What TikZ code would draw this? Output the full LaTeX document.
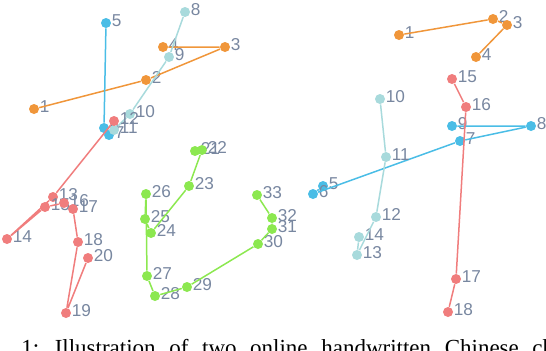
\documentclass[tikz,border=0pt]{standalone}
\usepackage{fontspec}
\setmainfont{Liberation Serif}
\newfontfamily\numfont{Liberation Sans}
\usepackage{xcolor}
\usepackage{tikz}
\definecolor{myorange}{RGB}{240,150,58}
\definecolor{myblue}{RGB}{74,189,230}
\definecolor{myteal}{RGB}{168,218,220}
\definecolor{myred}{RGB}{240,125,125}
\definecolor{mygreen}{RGB}{140,232,80}
\definecolor{mylabel}{RGB}{120,135,160}
\tikzset{
  dot/.style={circle, fill=#1, draw=none, inner sep=0pt, minimum size=5pt},
  num/.style={font=\numfont\fontsize{8.6}{9}\selectfont, text=mylabel,
    inner sep=0pt, yshift=1.2pt},
  stroke/.style={line width=0.75pt, color=#1},
  caption/.style={font=\fontsize{11.5}{13}\selectfont, inner sep=0pt}
}

\begin{document}
\begin{tikzpicture}[x=0.5pt, y=-0.5pt]
\useasboundingbox (0,0) rectangle (546,350);

% Left character: orange stroke
\node[dot=myorange, label={[num]right:1}] (L1) at (34,109) {};
\node[dot=myorange, label={[num]right:2}] (L2) at (146,80) {};
\node[dot=myorange, label={[num]right:3}] (L3) at (225,47) {};
\node[dot=myorange, label={[num]right:4}] (L4) at (163,47) {};
\draw[stroke=myorange] (L1) -- (L2) -- (L3) -- (L4);

% Left character: blue stroke
\node[dot=myblue, label={[num]right:5}] (L5) at (106,23) {};
\node[dot=myblue, label={[num]right:6}] (L6) at (104,128) {};
\node[dot=myblue, label={[num]right:7}] (L7) at (109,135) {};
\draw[stroke=myblue] (L5) -- (L6) -- (L7);

% Left character: teal stroke
\node[dot=myteal, label={[num]right:8}] (L8) at (185,12) {};
\node[dot=myteal, label={[num]right:9}] (L9) at (169,57) {};
\node[dot=myteal, label={[num]right:10}] (L10) at (130,114) {};
\node[dot=myteal, label={[num]right:11}] (L11) at (114,130) {};
\draw[stroke=myteal] (L8) -- (L9) -- (L10) -- (L11);

% Left character: red stroke
\node[dot=myred, label={[num]right:12}] (L12) at (114,121) {};
\node[dot=myred, label={[num]right:13}] (L13) at (53,197) {};
\node[dot=myred, label={[num]right:14}] (L14) at (7,239) {};
\node[dot=myred, label={[num]right:15}] (L15) at (45,207) {};
\node[dot=myred, label={[num]right:16}] (L16) at (64,203) {};
\node[dot=myred, label={[num]right:17}] (L17) at (73,209) {};
\node[dot=myred, label={[num]right:18}] (L18) at (78,242) {};
\node[dot=myred, label={[num]right:19}] (L19) at (66,313) {};
\node[dot=myred, label={[num]right:20}] (L20) at (88,258) {};
\draw[stroke=myred] (L12) -- (L13) -- (L14) -- (L15) -- (L16) -- (L17)
  -- (L18) -- (L19) -- (L20);

% Left character: green stroke
\node[dot=mygreen, label={[num]right:21}] (L21) at (195,151) {};
\node[dot=mygreen, label={[num]right:22}] (L22) at (202,150) {};
\node[dot=mygreen, label={[num]right:23}] (L23) at (189,186) {};
\node[dot=mygreen, label={[num]right:24}] (L24) at (151,233) {};
\node[dot=mygreen, label={[num]right:25}] (L25) at (145,219) {};
\node[dot=mygreen, label={[num]right:26}] (L26) at (146,194) {};
\node[dot=mygreen, label={[num]right:27}] (L27) at (147,276) {};
\node[dot=mygreen, label={[num]right:28}] (L28) at (155,296) {};
\node[dot=mygreen, label={[num]right:29}] (L29) at (187,287) {};
\node[dot=mygreen, label={[num]right:30}] (L30) at (258,244) {};
\node[dot=mygreen, label={[num]right:31}] (L31) at (272,229) {};
\node[dot=mygreen, label={[num]right:32}] (L32) at (272,218) {};
\node[dot=mygreen, label={[num]right:33}] (L33) at (257,195) {};
\draw[stroke=mygreen] (L21) -- (L22) -- (L23) -- (L24) -- (L25) -- (L26)
  -- (L27) -- (L28) -- (L29) -- (L30) -- (L31) -- (L32) -- (L33);

% Right character: orange stroke
\node[dot=myorange, label={[num]right:1}] (R1) at (399,35) {};
\node[dot=myorange, label={[num]right:2}] (R2) at (493,19) {};
\node[dot=myorange, label={[num]right:3}] (R3) at (507,25) {};
\node[dot=myorange, label={[num]right:4}] (R4) at (476,57) {};
\draw[stroke=myorange] (R1) -- (R2) -- (R3) -- (R4);

% Right character: blue stroke
\node[dot=myblue, label={[num]right:5}] (R5) at (323,186) {};
\node[dot=myblue, label={[num]right:6}] (R6) at (313,194) {};
\node[dot=myblue, label={[num]right:7}] (R7) at (460,141) {};
\node[dot=myblue, label={[num]right:8}] (R8) at (531,126) {};
\node[dot=myblue, label={[num]right:9}] (R9) at (452,126) {};
\draw[stroke=myblue] (R5) -- (R6) -- (R7) -- (R8) -- (R9);

% Right character: teal stroke
\node[dot=myteal, label={[num]right:10}] (R10) at (380,99) {};
\node[dot=myteal, label={[num]right:11}] (R11) at (386,157) {};
\node[dot=myteal, label={[num]right:12}] (R12) at (376,217) {};
\node[dot=myteal, label={[num]right:13}] (R13) at (357,255) {};
\node[dot=myteal, label={[num]right:14}] (R14) at (359,237) {};
\draw[stroke=myteal] (R10) -- (R11) -- (R12) -- (R13) -- (R14);

% Right character: red stroke
\node[dot=myred, label={[num]right:15}] (R15) at (452,79) {};
\node[dot=myred, label={[num]right:16}] (R16) at (466,107) {};
\node[dot=myred, label={[num]right:17}] (R17) at (456,279) {};
\node[dot=myred, label={[num]right:18}] (R18) at (448,312) {};
\draw[stroke=myred] (R15) -- (R16) -- (R17) -- (R18);

% Caption, cut by the bottom edge
\begin{scope}
\clip (0,0) rectangle (546,350);
\node[caption, anchor=base west] (cap) at (21,355)
  {\spaceskip=6.8pt\relax 1: Illustration of two online handwritten Chinese characters};
\end{scope}
\end{tikzpicture}
\end{document}
